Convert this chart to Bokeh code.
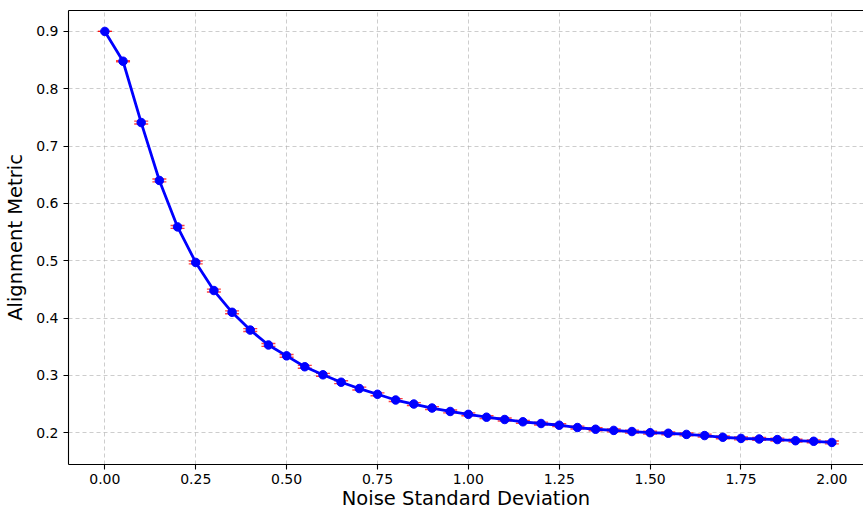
from bokeh.plotting import figure
from bokeh.models import (ColumnDataSource, Whisker, TeeHead, FixedTicker,
                          NumeralTickFormatter, Range1d, LinearAxis)
from bokeh.embed import file_html
from bokeh.resources import INLINE

noise_std = [0.00, 0.05, 0.10, 0.15, 0.20, 0.25, 0.30, 0.35, 0.40, 0.45,
             0.50, 0.55, 0.60, 0.65, 0.70, 0.75, 0.80, 0.85, 0.90, 0.95,
             1.00, 1.05, 1.10, 1.15, 1.20, 1.25, 1.30, 1.35, 1.40, 1.45,
             1.50, 1.55, 1.60, 1.65, 1.70, 1.75, 1.80, 1.85, 1.90, 1.95, 2.00]
alignment = [0.900, 0.848, 0.741, 0.640, 0.559, 0.497, 0.448, 0.410, 0.379, 0.353,
             0.334, 0.315, 0.301, 0.288, 0.277, 0.267, 0.257, 0.250, 0.243, 0.237,
             0.232, 0.227, 0.223, 0.219, 0.216, 0.213, 0.209, 0.206, 0.204, 0.202,
             0.200, 0.199, 0.197, 0.195, 0.192, 0.190, 0.189, 0.188, 0.186, 0.185, 0.183]
errors = [0.000, 0.001, 0.0025, 0.0025, 0.0025, 0.0025, 0.0025, 0.0025, 0.0025, 0.0025,
          0.0025, 0.0025, 0.0025, 0.0025, 0.0025, 0.0025, 0.0025, 0.0025, 0.0025, 0.0025,
          0.0025, 0.0025, 0.0025, 0.0025, 0.0025, 0.0025, 0.0025, 0.0025, 0.0025, 0.0025,
          0.0025, 0.0025, 0.0025, 0.0025, 0.0025, 0.0025, 0.0025, 0.0025, 0.0025, 0.0025, 0.0025]
x_ticks = [0.0, 0.25, 0.5, 0.75, 1.0, 1.25, 1.5, 1.75, 2.0]
y_ticks = [0.2, 0.3, 0.4, 0.5, 0.6, 0.7, 0.8, 0.9]
x_label = "Noise Standard Deviation"
y_label = "Alignment Metric"

upper = [a + e for a, e in zip(alignment, errors)]
lower = [a - e for a, e in zip(alignment, errors)]
src = ColumnDataSource(data=dict(x=noise_std, y=alignment, upper=upper, lower=lower))

FONT = "DejaVu Sans"

p = figure(width=863, height=512, output_backend="svg", toolbar_location=None,
           x_range=Range1d(-0.1, 2.087), y_range=Range1d(0.1445, 0.9365),
           min_border_left=68, min_border_right=0, min_border_top=10, min_border_bottom=46)
p.outline_line_color = None
p.background_fill_color = "white"
p.border_fill_color = "white"

whisker = Whisker(source=src, base="x", upper="upper", lower="lower",
                  line_color="red", line_alpha=0.7, line_width=1.3,
                  upper_head=TeeHead(size=14, line_color="red", line_alpha=0.75, line_width=1.4),
                  lower_head=TeeHead(size=14, line_color="red", line_alpha=0.75, line_width=1.4))
p.add_layout(whisker)

p.line("x", "y", source=src, line_color="blue", line_width=2.8)
p.scatter("x", "y", source=src, size=8.5, fill_color="blue", line_color="blue")

for ax in (p.xaxis[0], p.yaxis[0]):
    ax.axis_line_color = "black"
    ax.axis_line_width = 1.1
    ax.major_tick_line_color = "black"
    ax.major_tick_line_width = 1.1
    ax.major_tick_out = 5
    ax.major_tick_in = 0
    ax.minor_tick_line_color = None
    ax.major_label_text_font = FONT
    ax.major_label_text_font_size = "14px"
    ax.major_label_text_color = "black"
    ax.axis_label_text_font = FONT
    ax.axis_label_text_font_size = "19.5px"
    ax.axis_label_text_font_style = "normal"
    ax.axis_label_text_color = "black"

p.xaxis.ticker = FixedTicker(ticks=x_ticks)
p.yaxis.ticker = FixedTicker(ticks=y_ticks)
p.xaxis.formatter = NumeralTickFormatter(format="0.00")
p.yaxis.formatter = NumeralTickFormatter(format="0.0")
p.xaxis.axis_label = x_label
p.yaxis.axis_label = y_label
p.xaxis.major_label_standoff = 4
p.yaxis.major_label_standoff = 5
p.xaxis.axis_label_standoff = 0
p.yaxis.axis_label_standoff = 6

top = LinearAxis(ticker=FixedTicker(ticks=[]), major_label_text_font_size="0px",
                 axis_line_color="black", axis_line_width=1.1,
                 major_tick_line_color=None, minor_tick_line_color=None)
p.add_layout(top, "above")

p.grid.grid_line_color = "#b0b0b0"
p.grid.grid_line_alpha = 0.7
p.grid.grid_line_dash = "4 3"
p.grid.grid_line_width = 0.9
p.xgrid.ticker = FixedTicker(ticks=x_ticks)
p.ygrid.ticker = FixedTicker(ticks=y_ticks)

open("out.html", "w").write(file_html(p, INLINE))
